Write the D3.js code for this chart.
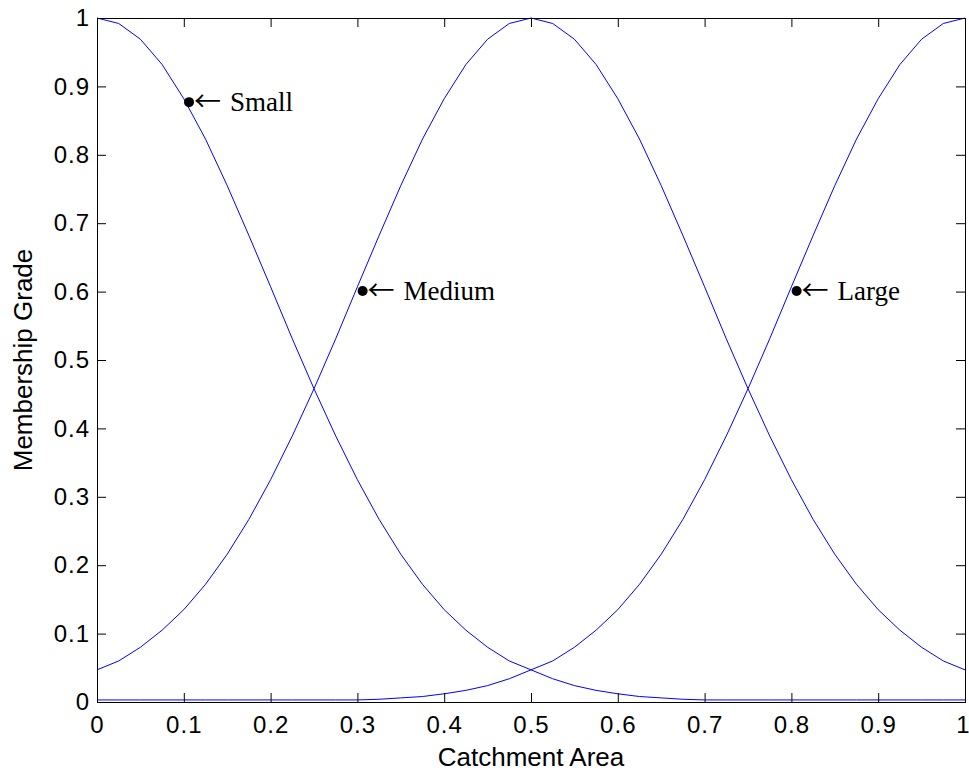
<!DOCTYPE html>
<html>
<head>
<meta charset="utf-8">
<script src="https://cdn.jsdelivr.net/npm/d3@7"></script>
<style>
  body { margin: 0; background: #fff; }
  .axis text { font-family: "Liberation Sans", Arial, sans-serif; font-size: 24px; letter-spacing: 1px; fill: #000; }
  .label { font-family: "Liberation Sans", Arial, sans-serif; font-size: 26px; fill: #000; }
  .note { font-family: "Liberation Serif", "Times New Roman", serif; font-size: 27px; fill: #000; }
  .arrow { font-family: "Noto Sans CJK JP", "DejaVu Sans", sans-serif; font-size: 27px; }
  .line { fill: none; stroke: #0000ff; stroke-width: 1px; }
</style>
</head>
<body>
<svg width="969" height="771"></svg>
<script>
    // catchment area positions (x) and the three membership curves
    var area = [0, 0.025, 0.05, 0.075, 0.1, 0.125, 0.15, 0.175, 0.2, 0.225,
                0.25, 0.275, 0.3, 0.325, 0.35, 0.375, 0.4, 0.425, 0.45, 0.475,
                0.5, 0.525, 0.55, 0.575, 0.6, 0.625, 0.65, 0.675, 0.7, 0.725,
                0.75, 0.775, 0.8, 0.825, 0.85, 0.875, 0.9, 0.925, 0.95, 0.975, 1];

    var small = [1, 0.992, 0.969, 0.932, 0.882, 0.823, 0.755, 0.682, 0.607, 0.531,
                 0.458, 0.389, 0.325, 0.267, 0.216, 0.172, 0.135, 0.105, 0.080, 0.060,
                 0.047, 0.034, 0.024, 0.017, 0.012, 0.008, 0.006, 0.004, 0.003, 0.003,
                 0.003, 0.003, 0.003, 0.003, 0.003, 0.003, 0.003, 0.003, 0.003, 0.003, 0.003];

    var medium = [0.047, 0.060, 0.080, 0.105, 0.135, 0.172, 0.216, 0.267, 0.325, 0.389,
                  0.458, 0.531, 0.607, 0.682, 0.755, 0.823, 0.882, 0.932, 0.969, 0.992,
                  1, 0.992, 0.969, 0.932, 0.882, 0.823, 0.755, 0.682, 0.607, 0.531,
                  0.458, 0.389, 0.325, 0.267, 0.216, 0.172, 0.135, 0.105, 0.080, 0.060, 0.047];

    var large = [0.003, 0.003, 0.003, 0.003, 0.003, 0.003, 0.003, 0.003, 0.003, 0.003,
                 0.003, 0.003, 0.003, 0.004, 0.006, 0.008, 0.012, 0.017, 0.024, 0.034,
                 0.047, 0.060, 0.080, 0.105, 0.135, 0.172, 0.216, 0.267, 0.325, 0.389,
                 0.458, 0.531, 0.607, 0.682, 0.755, 0.823, 0.882, 0.932, 0.969, 0.992, 1];

    var xTicks = [0, 0.1, 0.2, 0.3, 0.4, 0.5, 0.6, 0.7, 0.8, 0.9, 1];
    var yTicks = [0, 0.1, 0.2, 0.3, 0.4, 0.5, 0.6, 0.7, 0.8, 0.9, 1];

    // annotation markers: label, x, y
    var noteNames = ["Small", "Medium", "Large"];
    var noteX = [0.106, 0.306, 0.806];
    var noteY = [0.877, 0.601, 0.601];

    var svg = d3.select("svg"),
        margin = {
            top: 18,
            right: 4,
            bottom: 69,
            left: 97
        },
        width = +svg.attr("width") - margin.left - margin.right,
        height = +svg.attr("height") - margin.top - margin.bottom,
        g = svg.append("g").attr("transform", "translate(" + margin.left + "," + margin.top + ")");

    var x = d3.scaleLinear()
        .domain([0, 1])
        .range([0, width]);

    var y = d3.scaleLinear()
        .domain([0, 1])
        .range([height, 0]);

    var fmt = function(d) { return d3.format("")(d); };

    // curves first, axes drawn on top like matlab
    [small, medium, large].forEach(function(series) {
        var line = d3.line()
            .x(function(d, i) { return x(area[i]); })
            .y(function(d) { return y(d); });
        g.append("path")
            .datum(series)
            .attr("class", "line")
            .attr("d", line);
    });

    g.append("g")
        .attr("class", "axis axis--x")
        .attr("transform", "translate(0," + height + ")")
        .call(d3.axisBottom(x).tickValues(xTicks).tickFormat(fmt).tickSizeInner(-9).tickSizeOuter(0).tickPadding(14));

    g.append("g")
        .attr("class", "axis axis--top")
        .call(d3.axisTop(x).tickValues(xTicks).tickFormat("").tickSizeInner(-9).tickSizeOuter(0));

    g.append("g")
        .attr("class", "axis axis--y")
        .call(d3.axisLeft(y).tickValues(yTicks).tickFormat(fmt).tickSizeInner(-9).tickSizeOuter(0).tickPadding(7));

    g.append("g")
        .attr("class", "axis axis--right")
        .attr("transform", "translate(" + width + ",0)")
        .call(d3.axisRight(y).tickValues(yTicks).tickFormat("").tickSizeInner(-9).tickSizeOuter(0));

    g.selectAll(".axis path, .axis line").attr("stroke", "#000").attr("stroke-width", 1);
    g.selectAll(".axis .domain").attr("shape-rendering", "crispEdges");
    // the last x label sits on the window edge, pull it in a bit
    g.selectAll(".axis--x .tick text").filter(function(d) { return d === 1; }).attr("dx", "-2");

    // markers and arrow notes
    noteNames.forEach(function(name, i) {
        var cx = x(noteX[i]), cy = y(noteY[i]);
        g.append("circle")
            .attr("cx", cx)
            .attr("cy", cy)
            .attr("r", 5)
            .attr("fill", "#000");
        var t = g.append("text")
            .attr("class", "note")
            .attr("x", cx + 5)
            .attr("y", cy + 9);
        t.append("tspan").attr("class", "arrow").text("\u2190");
        t.append("tspan").attr("dx", 9).text(name);
    });

    svg.append("text")
        .attr("class", "label")
        .attr("text-anchor", "middle")
        .attr("x", margin.left + width / 2)
        .attr("y", 766)
        .text("Catchment Area");

    svg.append("text")
        .attr("class", "label")
        .attr("text-anchor", "middle")
        .attr("font-size", "25.5px")
        .attr("transform", "translate(32," + (margin.top + height / 2) + ") rotate(-90)")
        .text("Membership Grade");
</script>
</body>
</html>
